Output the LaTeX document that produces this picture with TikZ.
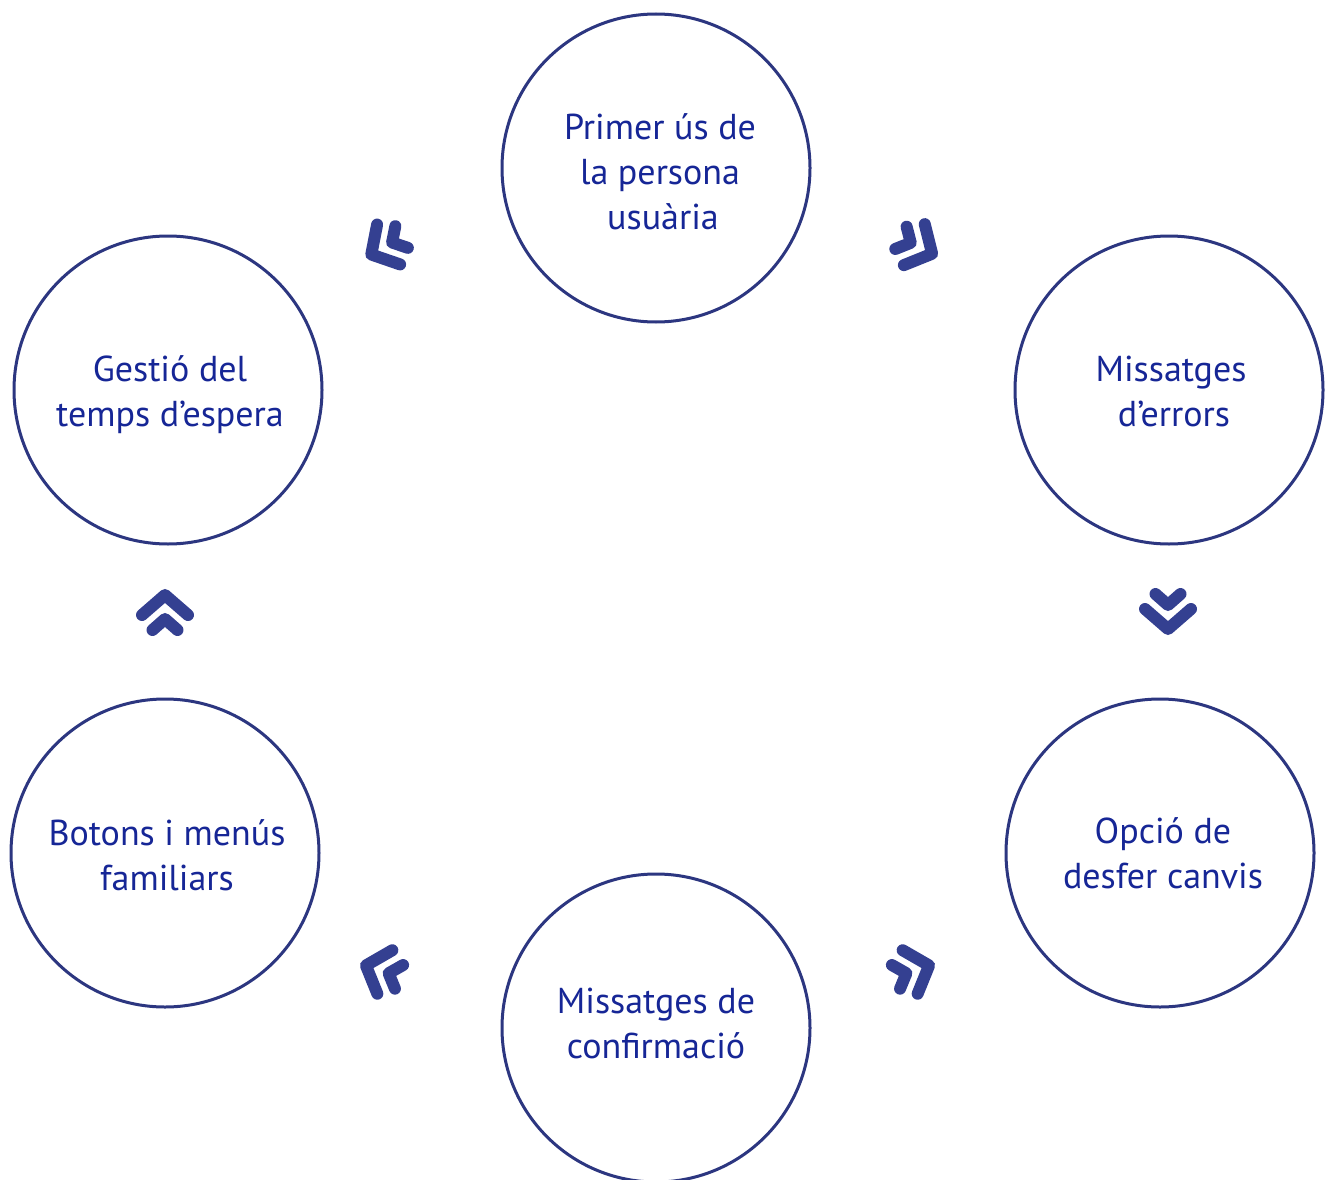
\documentclass[tikz,border=0pt]{standalone}
\usepackage{fontspec}
\setmainfont{PT Sans}
\definecolor{ringc}{RGB}{44,54,128}
\definecolor{txtc}{RGB}{22,38,150}
\definecolor{chevc}{RGB}{52,64,145}
\tikzset{
  ring/.style={circle,draw=ringc,line width=3pt,minimum size=308pt,inner sep=0pt},
  lbl/.style={text=txtc,align=center,inner sep=0pt,font=\fontsize{36}{45}\selectfont},
  chevpath/.style={draw=chevc,line width=12pt,line cap=round,line join=round},
  chevron/.pic={
    \draw[chevpath] (-23,-3) -- (0,17) -- (23,-3);
    \draw[chevpath] (-12.5,-18) -- (0,-7) -- (12.5,-18);
  }
}
\begin{document}
\begin{tikzpicture}[x=1pt,y=-1pt]
\useasboundingbox (0,0) rectangle (1333,1180);
\fill[white] (0,0) rectangle (1333,1180);
% circles
\node[ring] (c1) at (656,168) {};
\node[ring] (c2) at (1169,390) {};
\node[ring] (c3) at (1160,853) {};
\node[ring] (c4) at (656,1028) {};
\node[ring] (c5) at (165,853) {};
\node[ring] (c6) at (168,390) {};
% labels
\node[lbl] (t1) at (660,172) {Primer ús de\\la persona\\\hspace*{6pt}usuària};
\node[lbl] (t2) at (1171,391) {Missatges\\\hspace*{6pt}d’errors};
\node[lbl] (t3) at (1163,853) {Opció de\\desfer canvis};
\node[lbl] (t4) at (656,1023) {Missatges de\\confirmació};
\node[lbl] (t5) at (167,855) {Botons i menús\\familiars};
\node[lbl] (t6) at (170,395) {Gestió del\\temps d’espera};
% chevrons
\pic[rotate=-60] (k1) at (386,246) {chevron};
\pic[rotate=63] (k2) at (917,246) {chevron};
\pic (k3) at (1168,612) {chevron};
\pic[rotate=109] (k4) at (913,971) {chevron};
\pic[rotate=-109] (k5) at (382,971) {chevron};
\pic[rotate=180] (k6) at (165,612) {chevron};
\end{tikzpicture}
\end{document}
